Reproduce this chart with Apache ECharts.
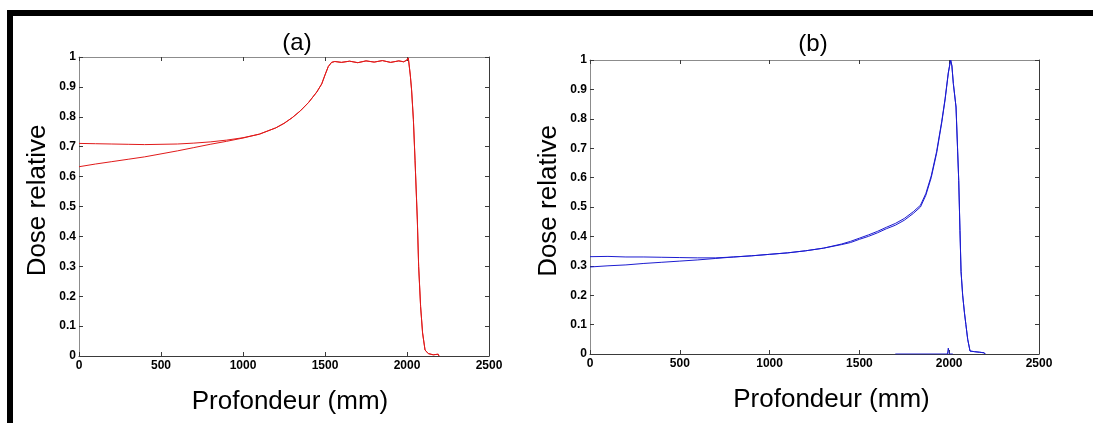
<!DOCTYPE html>
<html>
<head>
<meta charset="utf-8">
<script src="https://cdn.jsdelivr.net/npm/echarts@6/dist/echarts.min.js"></script>
<style>
html,body{margin:0;padding:0;background:#fff;}
#chart{width:1095px;height:423px;}
</style>
</head>
<body>
<div id="chart"></div>
<script>
// ---- Data ----
const titles = ['(a)', '(b)'];
const xName = 'Profondeur (mm)';
const yName = 'Dose relative';

// Panel (a) - red
const depthA = [0,100,200,300,400,500,600,700,800,900,1000,1100,1200,1250,1300,1350,1400,1450,1480,1500,1520,1540,1560,1600,1650,1700,1750,1800,1850,1900,1950,1980,2000,2008,2020,2028,2039,2049,2063,2071,2083,2095,2110,2130,2160,2190,2195];
const doseA1 = [0.711,0.710,0.709,0.708,0.707,0.708,0.709,0.712,0.716,0.722,0.730,0.742,0.763,0.778,0.797,0.820,0.848,0.883,0.910,0.940,0.968,0.982,0.985,0.982,0.986,0.981,0.987,0.983,0.988,0.982,0.987,0.984,0.990,0.997,0.940,0.890,0.790,0.655,0.455,0.300,0.165,0.077,0.020,0.008,0.004,0.006,0.000];
const doseA2 = [0.633,0.642,0.650,0.658,0.666,0.676,0.686,0.697,0.708,0.718,0.729,0.742,0.763,0.778,0.797,0.820,0.848,0.883,0.910,0.940,0.968,0.982,0.985,0.982,0.986,0.981,0.987,0.983,0.988,0.982,0.987,0.984,0.990,0.997,0.940,0.890,0.790,0.655,0.455,0.300,0.165,0.077,0.020,0.008,0.004,0.006,0.000];

// Panel (b) - blue
const depthB = [0,100,200,300,400,500,600,700,800,900,1000,1100,1200,1300,1400,1450,1500,1550,1600,1650,1700,1750,1800,1840,1870,1900,1930,1958,1977,1995,2008,2015,2023,2038,2047,2053,2060,2066,2075,2085,2093,2103,2116,2140,2170,2195,2200];
const doseB1 = [0.331,0.332,0.330,0.330,0.329,0.328,0.327,0.327,0.330,0.334,0.339,0.344,0.351,0.360,0.374,0.383,0.394,0.405,0.417,0.431,0.444,0.461,0.484,0.506,0.546,0.606,0.689,0.790,0.868,0.957,1.000,0.980,0.920,0.840,0.690,0.590,0.420,0.280,0.200,0.140,0.100,0.050,0.010,0.008,0.006,0.004,0.000];
const doseB2 = [0.296,0.300,0.303,0.308,0.312,0.316,0.320,0.325,0.330,0.334,0.339,0.344,0.351,0.360,0.372,0.379,0.390,0.400,0.412,0.426,0.438,0.455,0.478,0.500,0.540,0.600,0.683,0.785,0.864,0.955,1.000,0.980,0.920,0.840,0.690,0.590,0.420,0.280,0.200,0.140,0.100,0.050,0.010,0.008,0.006,0.004,0.000];
const depthB0 = [1700,1990,1995,2000,2005,2020];
const doseB0 = [0,0,0.02,0,0.004,0];

const xTicks = {min:0, max:2500, interval:500};
const yTicks = {min:0, max:1, interval:0.1};

const RED = '#e01a1a';
const BLUE = '#1c1cd0';

function pairs(xs, ys){ return xs.map((x,i)=>[x, ys[i]]); }

const FONT = 'Liberation Sans, Arial, sans-serif';
const DARK = '#3a3a3a';
const LIGHT = '#8c8c8c';

const grids = [
  {left:79, top:57, width:410, height:299},
  {left:590, top:60, width:449, height:294}
];

const xAxes = [], yAxes = [];
grids.forEach((g, gi)=>{
  const labelStyle = {fontFamily:FONT, fontWeight:'bold', fontSize:12, color:'#000'};
  xAxes.push({
    gridIndex:gi, type:'value', position:'bottom', min:xTicks.min, max:xTicks.max, interval:xTicks.interval,
    axisLine:{show:true, onZero:false, lineStyle:{color:DARK, width:1}},
    axisTick:{show:true, inside:true, length:4, lineStyle:{color:DARK}},
    axisLabel:{show:true, margin:4, formatter:v=>String(v), ...labelStyle},
    splitLine:{show:false},
    name:xName, nameLocation:'middle', nameGap:33,
    nameTextStyle:{fontFamily:FONT, fontSize:26, color:'#000', padding: gi===0 ? [0,0,0,12] : [0,0,0,34]}
  });
  xAxes.push({
    gridIndex:gi, type:'value', position:'top', min:xTicks.min, max:xTicks.max, interval:xTicks.interval,
    axisLine:{show:true, onZero:false, lineStyle:{color:LIGHT, width:1}},
    axisTick:{show:true, inside:true, length:4, lineStyle:{color:DARK}},
    axisLabel:{show:false}, splitLine:{show:false}
  });
  yAxes.push({
    gridIndex:gi, type:'value', position:'left', min:yTicks.min, max:yTicks.max, interval:yTicks.interval,
    axisLine:{show:true, onZero:false, lineStyle:{color:LIGHT, width:1}},
    axisTick:{show:true, inside:true, length:4, lineStyle:{color:DARK}},
    axisLabel:{show:true, margin:3, formatter:v=>String(Math.round(v*10)/10), ...labelStyle},
    splitLine:{show:false},
    name:yName, nameLocation:'middle', nameGap:28, nameRotate:90,
    nameTextStyle:{fontFamily:FONT, fontSize:26, color:'#000', padding:[0,0,0,12]}
  });
  yAxes.push({
    gridIndex:gi, type:'value', position:'right', min:yTicks.min, max:yTicks.max, interval:yTicks.interval,
    axisLine:{show:true, onZero:false, lineStyle:{color:DARK, width:1}},
    axisTick:{show:true, inside:true, length:4, lineStyle:{color:DARK}},
    axisLabel:{show:false}, splitLine:{show:false}
  });
});

function lineSeries(xi, yi, data, color){
  return {type:'line', xAxisIndex:xi, yAxisIndex:yi, data:data, showSymbol:false, symbol:'none',
    lineStyle:{color:color, width:1}, itemStyle:{color:color}, animation:false, silent:true};
}

const option = {
  backgroundColor:'#ffffff',
  animation:false,
  title:[
    {text:titles[0], left:292, top:26, textAlign:'center', textStyle:{fontFamily:FONT, fontSize:24, fontWeight:'normal', color:'#000'}},
    {text:titles[1], left:808, top:27, textAlign:'center', textStyle:{fontFamily:FONT, fontSize:24, fontWeight:'normal', color:'#000'}}
  ],
  grid:grids,
  xAxis:xAxes,
  yAxis:yAxes,
  series:[
    lineSeries(0,0,pairs(depthA,doseA1),RED),
    lineSeries(0,0,pairs(depthA,doseA2),RED),
    lineSeries(2,2,pairs(depthB,doseB1),BLUE),
    lineSeries(2,2,pairs(depthB,doseB2),BLUE),
    lineSeries(2,2,pairs(depthB0,doseB0),BLUE)
  ],
  graphic:[
    {type:'rect', shape:{x:7, y:10, width:1086, height:6}, style:{fill:'#000'}, silent:true},
    {type:'rect', shape:{x:7, y:10, width:6, height:413}, style:{fill:'#000'}, silent:true}
  ]
};

const chart = echarts.init(document.getElementById('chart'), null, {renderer:'canvas'});
chart.setOption(option);
</script>
</body>
</html>
